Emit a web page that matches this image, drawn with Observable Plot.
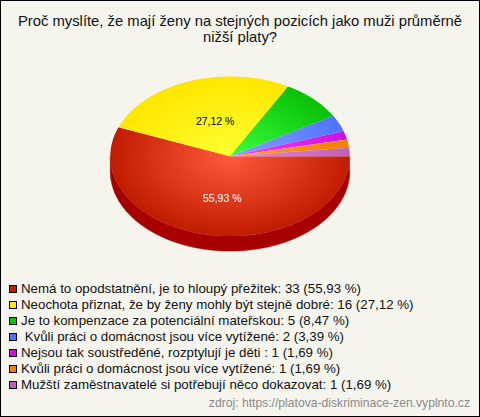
<!DOCTYPE html>
<html><head><meta charset="utf-8">
<script src="https://cdn.jsdelivr.net/npm/d3@7"></script>
<script src="https://cdn.jsdelivr.net/npm/@observablehq/plot@0.6"></script>
<style>
html,body{margin:0;padding:0;background:#f5f5ee;}
#frame{position:relative;box-sizing:border-box;width:480px;height:417px;border:1px solid #000;background:#f5f5ee;font-family:"Liberation Sans",Arial,sans-serif;color:#111;overflow:hidden;}
#title{position:absolute;left:0;right:0;top:12px;text-align:center;font-size:14.8px;line-height:16px;padding:0 8px;}
#chart{position:absolute;left:-1px;top:58px;}
#legend{position:absolute;left:8px;top:280px;font-size:13.3px;line-height:16px;white-space:pre;}
#legend .row{height:16px;display:flex;align-items:center;}
#legend i{display:inline-block;box-sizing:border-box;width:8px;height:8px;border:1px solid #000;margin-right:4px;flex:none;}
#source{position:absolute;right:9px;top:395px;font-size:12.15px;line-height:14px;color:#8a8a8a;}
</style></head><body>
<div id="frame"><div id="title">Proč myslíte, že mají ženy na stejných pozicích jako muži průměrně nižší platy?</div>
<div id="chart"></div><div id="legend"></div>
<div id="source">zdroj: https://platova-diskriminace-zen.vyplnto.cz</div></div>
<script>
const labels = ["Nemá to opodstatnění, je to hloupý přežitek","Neochota přiznat, že by ženy mohly být stejně dobré","Je to kompenzace za potenciální mateřskou"," Kvůli práci o domácnost jsou více vytížené","Nejsou tak soustředěné, rozptylují je děti ","Kvůli práci o domácnost jsou více vytížené","Mužští zaměstnavatelé si potřebují něco dokazovat"];
const counts = [33,16,5,2,1,1,1];
const percents = ["55,93 %","27,12 %","8,47 %","3,39 %","1,69 %","1,69 %","1,69 %"];
const swatch = ["#c41e00","#ffe600","#0cc20c","#4d74ff","#cc11dd","#f08000","#c060b8"];
const inner = ["#ff5a3c","#ffff30","#3cff3c","#85a5ff","#ff40ff","#ffa030","#e888e0"];
const outer = ["#c01c00","#ffe600","#08c008","#4d74ff","#cc11dd","#f08000","#c060b8"];
const sideColor = "#a60000";
const depth = 15/80;

const arcs = d3.pie().sort(null).startAngle(0).endAngle(2*Math.PI)(counts);
const step = Math.PI/180;
function slicePts(a){const pts=[{x:0,y:0}];
  const n=Math.max(2,Math.ceil((a.endAngle-a.startAngle)/step));
  d3.range(n+1).forEach(i=>{const t=a.startAngle+(a.endAngle-a.startAngle)*i/n;pts.push({x:Math.cos(t),y:Math.sin(t)});});
  return pts;}
// the rim below the front half
const rim=d3.range(0,181).map(d=>({x:Math.cos(d*step),y:Math.sin(d*step)}));
const rimPts=[...rim,...rim.slice().reverse().map(p=>({x:p.x,y:p.y+depth}))];

const defs=()=>{const s=d3.create("svg:defs");
  swatch.forEach((c,i)=>{const g=s.append("radialGradient").attr("id","g"+i).attr("gradientUnits","userSpaceOnUse").attr("cx",230).attr("cy",97).attr("r",120).attr("gradientTransform","translate(0,32.4) scale(1,0.6667)");
    g.append("stop").attr("offset","0").attr("stop-color",inner[i]);
    g.append("stop").attr("offset","1").attr("stop-color",outer[i]);});
  return s.node();};

const midA=a=>(a.startAngle+a.endAngle)/2;
const plot=Plot.plot({width:480,height:220,margin:0,
  style:{fontFamily:'"Liberation Sans",Arial,sans-serif',background:"transparent"},
  x:{domain:[-1,1],range:[110,350],axis:null},
  y:{domain:[-1,1],range:[17,177],axis:null},
  marks:[defs,
    Plot.line(rimPts,{x:"x",y:"y",fill:sideColor,stroke:sideColor,strokeWidth:0.5,curve:"linear"}),
    ...arcs.map((a,i)=>Plot.line(slicePts(a),{x:"x",y:"y",fill:`url(#g${i})`,stroke:"none",curve:"linear"})),
    Plot.text([arcs[0]],{x:a=>Math.cos(midA(a))*0.53,y:a=>Math.sin(midA(a))*0.53,text:()=>percents[0],fill:"#fff",fontSize:10.5,dx:4,dy:1}),
    Plot.text([arcs[1]],{x:a=>Math.cos(midA(a))*0.44,y:a=>Math.sin(midA(a))*0.44,text:()=>percents[1],fill:"#000",fontSize:10.5,dx:3,dy:-2})
  ]});
plot.style.display="block";
document.getElementById("chart").append(plot);
const L=document.getElementById("legend");
labels.forEach((t,i)=>{const r=document.createElement("div");r.className="row";
  const k=document.createElement("i");k.style.background=swatch[i];r.append(k);
  r.append(document.createTextNode(`${t}: ${counts[i]} (${percents[i]})`));L.append(r);});
</script></body></html>
